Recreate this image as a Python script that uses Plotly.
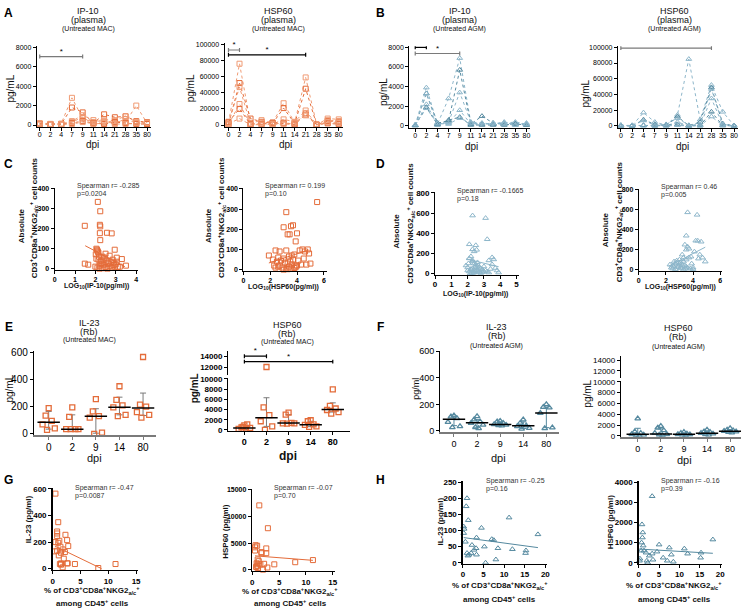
import plotly.graph_objects as go

FONT = "Arial, 'Liberation Sans', sans-serif"
W, H = 750, 614

# ---------------- data ----------------
days_plasma = ['0', '2', '4', '7', '9', '11', '14', '21', '28', '35', '80']
days_rb = ['0', '2', '9', '14', '80']

ip10_plasma_mac = [
    [100, 100, 150, 2800, 700, 300, 600, 400, 300, 2000, 200],
    [150, 100, 100, 1800, 1300, 200, 1100, 800, 900, 400, 300],
    [50, 80, 100, 400, 1000, 500, 300, 200, 600, 200, 100],
    [200, 120, 80, 300, 800, 100, 200, 500, 900, 300, 200],
    [100, 50, 50, 200, 400, 200, 100, 300, 200, 100, 100],
    [80, 90, 100, 100, 300, 150, 400, 100, 100, 200, 250],
]
hsp60_plasma_mac = [
    [3000, 76000, 2000, 6000, 3000, 27000, 3000, 59000, 500, 8000, 7000],
    [1000, 52000, 8000, 4000, 2000, 21000, 2000, 45000, 300, 5000, 4000],
    [2000, 47000, 1000, 3000, 1000, 7000, 4000, 18000, 200, 3000, 2000],
    [500, 26000, 500, 2000, 500, 3000, 1000, 15000, 100, 6000, 5000],
    [4000, 20000, 1000, 1000, 3000, 2000, 500, 13000, 400, 2000, 1000],
    [1500, 8000, 300, 500, 1500, 1000, 3000, 12000, 300, 4000, 3000],
]
ip10_plasma_agm = [
    [100, 3900, 200, 2800, 6900, 300, 200, 200, 300, 300, 200],
    [50, 3300, 300, 500, 5700, 200, 1000, 300, 200, 200, 100],
    [100, 3300, 100, 400, 3400, 400, 300, 200, 400, 100, 300],
    [80, 2200, 200, 300, 1600, 200, 200, 300, 300, 400, 200],
    [60, 1900, 150, 600, 900, 100, 100, 100, 100, 200, 100],
    [120, 1800, 250, 200, 800, 300, 250, 250, 200, 100, 150],
]
hsp60_plasma_agm = [
    [500, 500, 17000, 5000, 1000, 14000, 85000, 8000, 52000, 18000, 500],
    [1000, 200, 8000, 2000, 500, 12000, 500, 5000, 49000, 3000, 200],
    [300, 400, 7000, 1000, 2000, 10000, 1000, 2000, 47000, 2000, 300],
    [800, 1000, 500, 500, 300, 5000, 300, 1000, 35000, 1000, 100],
    [200, 300, 1000, 300, 1000, 2000, 200, 500, 18000, 500, 400],
    [600, 600, 300, 200, 500, 1000, 100, 300, 12000, 800, 200],
]
# significance brackets: (from index, to index, level)
sig_ip10_mac = [(0, 4, 7050)]
sig_hsp60_mac = [(0, 1, 93000), (0, 7, 87000)]
sig_ip10_agm = [(0, 1, 8000), (0, 4, 7370)]
sig_hsp60_agm = [(0, 8, 99000)]
sig_hsp60_rb_mac = [(0, 1, 14000), (0, 4, 13000)]

# C / D correlations
c1_x = [1.48, 1.48, 1.65, 2.12, 2.24, 2.22, 2.24, 2.22, 2.24, 2.57, 2.80, 2.05, 2.08, 2.10, 2.12, 2.15, 2.02, 2.18,
        2.95, 3.30, 3.05, 2.90, 2.70, 2.50, 2.40, 2.30, 2.0, 2.1, 2.2, 2.3, 2.4, 2.5, 2.6, 2.7, 2.8, 2.9, 3.0, 3.1,
        3.2, 3.5, 2.05, 2.15, 2.25, 2.35, 2.45, 2.55, 2.65, 2.75, 2.85, 2.95, 3.05, 2.2, 2.3, 2.4, 2.6, 2.8]
c1_y = [215, 25, 20, 335, 288, 220, 212, 178, 143, 180, 177, 100, 95, 90, 85, 80, 72, 60,
        95, 48, 55, 30, 65, 75, 45, 40, 10, 5, 15, 25, 20, 8, 30, 12, 5, 18, 22, 8,
        10, 15, 50, 45, 35, 60, 55, 40, 25, 35, 45, 10, 35, 0, 3, 2, 0, 5]
c1_fit_x = [1.5, 3.45]
c1_fit_y = [115, 10]

c2_x = [5.5, 3.2, 3.0, 3.55, 3.7, 3.45, 3.3, 4.0, 3.9, 1.9, 2.4, 2.7, 3.2, 2.6, 3.0, 3.4, 3.6, 3.8, 4.2, 4.4, 4.6,
        4.8, 4.9, 4.5, 2.2, 2.5, 2.8, 3.1, 3.3, 3.5, 3.7, 3.9, 4.1, 4.3, 2.3, 2.6, 2.9, 3.2, 3.4, 3.6, 3.8, 4.0,
        4.7, 5.0, 3.0, 3.5, 2.4, 2.7, 3.3, 3.9]
c2_y = [335, 285, 210, 215, 220, 175, 175, 180, 140, 70, 95, 90, 95, 60, 55, 65, 70, 75, 95, 100, 90,
        100, 80, 55, 50, 40, 45, 35, 30, 40, 50, 20, 45, 25, 20, 15, 10, 5, 15, 25, 8, 20,
        25, 30, 0, 5, 10, 20, 2, 12]
c2_fit_x = [1.9, 4.85]
c2_fit_y = [33, 97]

d1_x = [2.3, 3.1, 3.2, 2.1, 2.5, 2.3, 2.4, 2.55, 3.5, 3.3, 3.6, 3.8, 1.9, 2.0, 2.1, 2.2, 2.3, 2.4, 2.5, 2.6, 2.7,
        2.8, 2.9, 3.0, 3.1, 3.2, 3.4, 3.7, 3.9, 2.0, 2.1, 2.2, 2.3, 2.4, 2.5, 2.6, 2.7, 2.8, 3.0, 3.3, 2.15,
        2.25, 2.35, 2.45, 2.65, 2.05, 2.2, 2.4, 2.6, 2.9, 3.5, 2.3, 2.5]
d1_y = [575, 550, 340, 290, 280, 240, 220, 235, 160, 130, 140, 30, 80, 60, 150, 170, 120, 100, 90, 110, 60,
        50, 40, 70, 30, 20, 45, 55, 10, 30, 20, 40, 50, 10, 25, 35, 15, 5, 20, 10, 0,
        5, 8, 60, 80, 100, 45, 30, 20, 15, 90, 130, 70]
d1_fit_x = [1.9, 3.9]
d1_fit_y = [145, 68]

d2_x = [3.6, 4.3, 3.5, 4.2, 4.35, 4.6, 3.4, 3.6, 3.7, 4.1, 4.5, 4.7, 4.9, 3.2, 3.3, 3.5, 3.0, 2.8, 2.5, 2.3, 2.4,
        2.6, 2.7, 2.9, 3.1, 3.3, 3.5, 3.7, 3.9, 4.0, 2.5, 2.7, 2.9, 3.1, 3.3, 3.5, 3.8, 4.0, 2.8, 3.0, 3.2,
        3.4, 3.6, 2.6, 3.1, 3.45, 3.85, 4.4]
d2_y = [575, 550, 340, 290, 290, 280, 250, 230, 210, 180, 150, 120, 80, 150, 120, 200, 100, 90, 40, 50, 20,
        30, 60, 40, 70, 80, 100, 120, 60, 20, 10, 5, 25, 15, 0, 30, 10, 5, 70, 60, 50,
        40, 20, 80, 30, 10, 130, 110]
d2_fit_x = [2.2, 4.9]
d2_fit_y = [35, 225]

# E / F rhesus-derived values per dpi group, with centre line and bar ends
il23_rb_mac = [[190, 135, 95, 70, 40, 30], [195, 125, 35, 35, 35, 35], [255, 165, 130, 120, 10, 0],
               [350, 250, 210, 195, 140, 130], [565, 215, 200, 160, 140, 120]]
il23_rb_mac_mid = [85, 35, 130, 195, 190]
il23_rb_mac_lo = [35, 30, 5, 140, 135]
il23_rb_mac_hi = [165, 140, 185, 270, 300]

hsp60_rb_mac = [[900, 500, 1100, 200, 400, 600, 300], [12000, 4400, 2900, 1700, 700, 0],
                [3400, 3000, 1400, 1300, 1300, 1250], [1900, 1700, 1100, 1000, 700, 600],
                [7950, 4700, 4200, 3900, 3500, 3200]]
hsp60_rb_mac_mid = [400, 2400, 1350, 1000, 4000]
hsp60_rb_mac_lo = [100, 700, 1250, 650, 3500]
hsp60_rb_mac_hi = [800, 6300, 3000, 1700, 5300]

il23_rb_agm = [[115, 108, 95, 67, 35, 27], [110, 85, 70, 60, 45, 28, 20], [75, 70, 60, 50, 45, 42, 40],
               [85, 60, 40, 35, 22, 15], [200, 180, 175, 135, 25, 20]]
il23_rb_agm_mid = [88, 62, 48, 40, 135]
il23_rb_agm_lo = [40, 28, 42, 18, 25]
il23_rb_agm_hi = [112, 85, 68, 68, 180]

hsp60_rb_agm = [[3200, 800, 500, 300, 200, 100, 0], [1800, 1500, 1000, 500, 300, 200, 100],
                [700, 500, 400, 300, 250, 200, 100], [1100, 800, 700, 500, 400, 300, 200],
                [1400, 1100, 1000, 900, 800, 700, 600]]
hsp60_rb_agm_mid = [300, 350, 300, 500, 850]
hsp60_rb_agm_lo = [0, 100, 150, 300, 650]
hsp60_rb_agm_hi = [1400, 1300, 550, 900, 1100]

# G / H correlations
g1_x = [0.5, 1.0, 0.8, 0.8, 0.8, 2.3, 2.6, 0.5, 1.2, 1.0, 2.8, 1.4, 1.8, 0.4, 0.8, 2.2, 1.5, 1.1, 2.0, 1.5,
        1.3, 2.6, 2.7, 4.0, 11.3, 8.2, 1.8, 1.5]
g1_y = [565, 350, 280, 265, 245, 255, 215, 200, 210, 195, 170, 165, 145, 130, 135, 125, 120, 100, 75, 40,
        35, 40, 40, 35, 35, 5, 10, 30]
g1_fit_x = [0.4, 8.8]
g1_fit_y = [170, 0]

g2_x = [1.3, 2.9, 0.6, 0.9, 0.5, 0.5, 1.7, 1.7, 2.6, 2.6, 1.0, 1.2, 0.8, 1.0, 1.5, 2.2, 4.1, 8.0, 11.3, 0.7,
        1.0, 2.0, 2.8, 0.9]
g2_y = [12100, 7800, 4600, 4500, 4200, 3600, 3300, 3100, 4000, 3100, 1900, 1600, 1200, 1000, 1000, 1100, 1000,
        1400, 1800, 500, 300, 0, 400, 700]
g2_fit_x = [0.5, 11.3]
g2_fit_y = [2600, 1750]

h1_x = [1.0, 0.8, 1.3, 0.2, 0.3, 0.2, 11.2, 18.2, 4.5, 3.3, 7.0, 7.5, 0.6, 2.2, 3.2, 2.7, 5.2, 8.5, 12.0, 15.3,
        15.2, 1.0, 1.5, 1.2, 2.0, 3.3, 5.5, 8.0]
h1_y = [200, 175, 132, 112, 105, 92, 140, 88, 108, 78, 73, 70, 65, 55, 45, 40, 50, 45, 42, 38,
        30, 30, 25, 22, 30, 25, 0, 10]
h1_fit_x = [0.2, 18.2]
h1_fit_y = [78, 47]

h2_x = [3.3, 0.8, 1.0, 0.9, 0.7, 1.1, 5.0, 7.5, 11.2, 18.2, 0.3, 0.2, 1.3, 1.8, 2.6, 3.3, 4.5, 8.0, 12.0, 15.3,
        15.2, 2.0, 2.2, 3.5, 6.0, 7.0, 8.5, 0.6]
h2_y = [3300, 1900, 1500, 1250, 1000, 850, 900, 750, 700, 1150, 200, 100, 600, 500, 350, 450, 550, 400, 450, 500,
        250, 100, 0, 150, 250, 100, 50, 600]
h2_fit_x = [0.1, 18.2]
h2_fit_y = [680, 470]

# ---------------- styling ----------------
ORANGE = '#E46C3A'
ORANGE_L = '#F09B74'
BLUE = '#55899F'
BLUE_L = '#8DB6CA'
GREY = '#7a7a7a'

fig = go.Figure()
layout_axes = {}
AX = {}
anns = []


def key(prefix, i):
    return prefix if i == 1 else f'{prefix}{i}'


def cal(lo, hi, v1, p1, v2, p2):
    k = (v2 - v1) / (p2 - p1)
    return [v1 + (lo - p1) * k, v1 + (hi - p1) * k]


def astyle(size=8, bold=False, lc='black', lw=1, tickvals=None, ticktext=None, standoff=0):
    d = dict(showline=True, linecolor=lc, linewidth=lw, ticks='outside', ticklen=3, tickwidth=1,
             tickcolor=lc, showgrid=False, zeroline=False, fixedrange=True,
             tickfont=dict(family=FONT, size=size, color='black', weight='bold' if bold else 'normal'),
             exponentformat='none', separatethousands=False, ticklabelstandoff=standoff)
    if tickvals is not None:
        d['tickmode'] = 'array'
        d['tickvals'] = tickvals
        d['ticktext'] = ticktext if ticktext is not None else [str(v) for v in tickvals]
    return d


def make_axes(i, xpx, ypx, xcal, ycal, xopt, yopt, xshare=None):
    yr = cal(ypx[0], ypx[1], *ycal)
    xi = xshare or i
    if xshare is None:
        xr = cal(xpx[0], xpx[1], *xcal)
        layout_axes[key('xaxis', i)] = dict(domain=[xpx[0] / W, xpx[1] / W], range=xr,
                                            anchor=key('y', i), **xopt)
    layout_axes[key('yaxis', i)] = dict(domain=[1 - ypx[0] / H, 1 - ypx[1] / H], range=yr,
                                        anchor=key('x', xi), **yopt)
    AX[i] = dict(xa=key('x', xi), ya=key('y', i), ypp=(yr[1] - yr[0]) / (ypx[0] - ypx[1]))


def tr(i, **kw):
    fig.add_trace(go.Scatter(xaxis=AX[i]['xa'], yaxis=AX[i]['ya'], showlegend=False,
                             hoverinfo='skip', **kw))


def ann(x, y, text, size=8, bold=False, angle=0, xanchor='center', color='#111'):
    anns.append(dict(x=x / W, y=1 - y / H, xref='paper', yref='paper',
                     text=f'<b>{text}</b>' if bold else text, showarrow=False,
                     font=dict(family=FONT, size=size, color=color), textangle=angle,
                     xanchor=xanchor, yanchor='middle'))


def lines_panel(i, series, colors, symbol):
    for k, s in enumerate(series):
        c = colors[k % len(colors)]
        tr(i, x=list(range(len(s))), y=s, mode='lines+markers',
           line=dict(color=c, width=1, dash='dot'),
           marker=dict(symbol=symbol, size=5, color=c, line=dict(width=1, color=c)))


def brackets(i, specs, colors):
    p = AX[i]['ypp']
    for (x0, x1, yv), col in zip(specs, colors):
        cap = 2 * p
        tr(i, x=[x0, x0, x0, x1, x1, x1], y=[yv - cap, yv + cap, yv, yv, yv + cap, yv - cap],
           mode='lines', line=dict(color=col, width=1.2))
        tr(i, x=[(x0 + x1) / 2], y=[yv + 5 * p], mode='text', text=['*'],
           textfont=dict(size=8, color='black', family=FONT), cliponaxis=False)


JIT = [0, -0.13, 0.13, -0.26, 0.26, -0.07, 0.07, 0.2]


def swarm_panel(i, groups, mid, lo, hi, color, symbol, ecolor):
    xs, ys = [], []
    for g, vals in enumerate(groups):
        for k, v in enumerate(vals):
            xs.append(g + JIT[k])
            ys.append(v)
    gx = list(range(len(mid)))
    tr(i, x=gx, y=mid, mode='markers', marker=dict(size=1, color='rgba(0,0,0,0)'),
       error_y=dict(type='data', symmetric=False, array=[h - m for h, m in zip(hi, mid)],
                    arrayminus=[m - l for m, l in zip(mid, lo)], color=ecolor, thickness=1, width=3))
    tr(i, x=xs, y=ys, mode='markers',
       marker=dict(symbol=symbol, size=5, color=color, line=dict(width=1.3, color=color)))
    tr(i, x=gx, y=mid, mode='markers',
       marker=dict(symbol='line-ew', size=16, color='black', line=dict(width=1.5, color='black')))


def scatter_panel(i, xs, ys, fx, fy, color, symbol):
    tr(i, x=xs, y=ys, mode='markers', cliponaxis=False,
       marker=dict(symbol=symbol, size=5, color=color, line=dict(width=1, color=color)))
    tr(i, x=fx, y=fy, mode='lines', line=dict(color=color, width=1))


# ---------------- axes ----------------
pl_ticks = list(range(len(days_plasma)))
rb_ticks = list(range(len(days_rb)))

# Row A/B
make_axes(1, (35, 150), (124, 42), (0, 38, 10, 146), (0, 122, 8000, 43),
          astyle(7, tickvals=pl_ticks, ticktext=days_plasma, standoff=-2),
          astyle(7, tickvals=[0, 2000, 4000, 6000, 8000]))
make_axes(2, (224, 343), (124, 39), (0, 228, 10, 339), (0, 122, 100000, 40),
          astyle(7, tickvals=pl_ticks, ticktext=days_plasma, standoff=-2),
          astyle(7, tickvals=[0, 20000, 40000, 60000, 80000, 100000]))
make_axes(3, (410, 532), (125, 42), (0, 416, 10, 528), (0, 123, 8000, 43),
          astyle(7, tickvals=pl_ticks, ticktext=days_plasma, standoff=-2),
          astyle(7, tickvals=[0, 2000, 4000, 6000, 8000]))
make_axes(4, (620, 741), (125, 42), (0, 623, 10, 737), (0, 123, 100000, 43),
          astyle(7, tickvals=pl_ticks, ticktext=days_plasma, standoff=-2),
          astyle(7, tickvals=[0, 20000, 40000, 60000, 80000, 100000]))
# Row C/D
make_axes(5, (53, 137), (269, 186), (0, 53, 4, 135), (0, 268, 400, 187),
          astyle(7, True, tickvals=[0, 1, 2, 3, 4]), astyle(7, True, tickvals=[0, 100, 200, 300, 400]))
make_axes(6, (243, 327), (270, 186), (0, 243, 6, 324), (0, 269, 400, 187),
          astyle(7, True, tickvals=[0, 2, 4, 6]), astyle(7, True, tickvals=[0, 100, 200, 300, 400]))
make_axes(7, (436, 520), (274, 190), (0, 436, 5, 518), (0, 273, 800, 191),
          astyle(8, True, tickvals=[0, 1, 2, 3, 4, 5], standoff=-1),
          astyle(8, True, tickvals=[0, 200, 400, 600, 800]))
make_axes(8, (641, 725), (270, 187), (0, 641, 6, 723), (0, 269, 800, 188),
          astyle(7, True, tickvals=[0, 2, 4, 6]), astyle(7, True, tickvals=[0, 200, 400, 600, 800]))
# Row E/F
make_axes(9, (32, 155), (437, 352), (0, 47, 4, 142), (0, 436, 600, 353),
          astyle(10, lc=GREY, lw=2, tickvals=rb_ticks, ticktext=days_rb, standoff=-1),
          astyle(10, tickvals=[0, 200, 400, 600]))
make_axes(10, (228, 350), (433, 379), (0, 244, 4, 333), (0, 432, 10000, 380),
          astyle(9, True, lw=1.5, tickvals=rb_ticks, ticktext=days_rb, standoff=-1),
          astyle(8, True, lw=1.5, tickvals=[0, 2000, 4000, 6000, 8000, 10000]))
make_axes(11, None, (376, 352), None, (12000, 368, 14000, 357), None,
          astyle(8, True, lw=1.5, tickvals=[12000, 14000]), xshare=10)
make_axes(12, (441, 561), (434, 352), (0, 455, 4, 548), (0, 433, 600, 352),
          astyle(9, lc=GREY, lw=2, tickvals=rb_ticks, ticktext=days_rb, standoff=-1),
          astyle(9, tickvals=[0, 200, 400, 600]))
make_axes(13, (623, 744), (439, 382), (0, 640, 4, 733), (0, 438, 10000, 383),
          astyle(9, lc=GREY, lw=2, tickvals=rb_ticks, ticktext=days_rb, standoff=-1),
          astyle(8, tickvals=[0, 2000, 4000, 6000, 8000, 10000]))
make_axes(14, None, (379, 357), None, (12000, 372, 14000, 361), None,
          astyle(8, tickvals=[12000, 14000]), xshare=13)
# Row G/H
make_axes(15, (51, 137), (574, 491), (0, 51, 15, 135), (0, 573, 600, 492),
          astyle(8, True, lw=1.5, tickvals=[0, 5, 10, 15]), astyle(8, True, lw=1.5, tickvals=[0, 200, 400, 600]))
make_axes(16, (252, 335), (575, 492), (0, 252, 15, 333), (0, 574, 15000, 493),
          astyle(8, True, lw=1.5, tickvals=[0, 5, 10, 15]),
          astyle(7, True, lw=1.5, tickvals=[0, 5000, 10000, 15000]))
make_axes(17, (464, 549), (568, 484), (0, 464, 20, 547), (0, 567, 250, 485),
          astyle(8, True, lw=1.5, tickvals=[0, 5, 10, 15, 20], standoff=-1),
          astyle(8, True, lw=1.5, tickvals=[0, 50, 100, 150, 200, 250]))
make_axes(18, (641, 725), (568, 484), (0, 641, 20, 723), (0, 567, 4000, 485),
          astyle(8, True, lw=1.5, tickvals=[0, 5, 10, 15, 20], standoff=-1),
          astyle(8, True, lw=1.5, tickvals=[0, 1000, 2000, 3000, 4000]))

# ---------------- traces ----------------
lines_panel(1, ip10_plasma_mac, [ORANGE_L, ORANGE, ORANGE_L], 'square-open')
brackets(1, sig_ip10_mac, [GREY])
lines_panel(2, hsp60_plasma_mac, [ORANGE_L, ORANGE, ORANGE_L], 'square-open')
brackets(2, sig_hsp60_mac, [GREY, 'black'])
lines_panel(3, ip10_plasma_agm, [BLUE_L, BLUE, BLUE_L], 'triangle-up-open')
brackets(3, sig_ip10_agm, ['black', GREY])
lines_panel(4, hsp60_plasma_agm, [BLUE_L, BLUE, BLUE_L], 'triangle-up-open')
brackets(4, sig_hsp60_agm, [GREY])

scatter_panel(5, c1_x, c1_y, c1_fit_x, c1_fit_y, ORANGE, 'square-open')
scatter_panel(6, c2_x, c2_y, c2_fit_x, c2_fit_y, ORANGE, 'square-open')
scatter_panel(7, d1_x, d1_y, d1_fit_x, d1_fit_y, BLUE_L, 'triangle-up-open')
scatter_panel(8, d2_x, d2_y, d2_fit_x, d2_fit_y, BLUE_L, 'triangle-up-open')

swarm_panel(9, il23_rb_mac, il23_rb_mac_mid, il23_rb_mac_lo, il23_rb_mac_hi, ORANGE, 'square-open', GREY)
for ii in (10, 11):
    swarm_panel(ii, hsp60_rb_mac, hsp60_rb_mac_mid, hsp60_rb_mac_lo, hsp60_rb_mac_hi, ORANGE, 'square-open', GREY)
brackets(11, sig_hsp60_rb_mac, ['black', 'black'])
swarm_panel(12, il23_rb_agm, il23_rb_agm_mid, il23_rb_agm_lo, il23_rb_agm_hi, BLUE, 'triangle-up-open', BLUE)
for ii in (13, 14):
    swarm_panel(ii, hsp60_rb_agm, hsp60_rb_agm_mid, hsp60_rb_agm_lo, hsp60_rb_agm_hi, BLUE, 'triangle-up-open', BLUE)

scatter_panel(15, g1_x, g1_y, g1_fit_x, g1_fit_y, ORANGE, 'square-open')
scatter_panel(16, g2_x, g2_y, g2_fit_x, g2_fit_y, ORANGE, 'square-open')
scatter_panel(17, h1_x, h1_y, h1_fit_x, h1_fit_y, BLUE, 'triangle-up-open')
scatter_panel(18, h2_x, h2_y, h2_fit_x, h2_fit_y, BLUE, 'triangle-up-open')

# ---------------- text ----------------
for letter, x, y in [('A', 7, 8), ('B', 381, 8), ('C', 7, 162), ('D', 381, 162),
                     ('E', 7, 327), ('F', 381, 327), ('G', 7, 483), ('H', 381, 483)]:
    ann(x, y, letter, 12, bold=True, color='black')

# row 1 titles
for x, t1, t3 in [(87, 'IP-10', '(Untreated MAC)'), (278, 'HSP60', '(Untreated MAC)'),
                  (461, 'IP-10', '(Untreated AGM)'), (677, 'HSP60', '(Untreated AGM)')]:
    ann(x, 6, t1, 9)
    ann(x, 15, '(plasma)', 9)
    ann(x, 24, t3, 7)
for x, y in [(9, 85), (190, 85), (384, 88), (587, 90)]:
    ann(x, y, 'pg/mL', 10, angle=-90)
for x, y in [(91, 142), (285, 142), (473, 144), (685, 144)]:
    ann(x, y, 'dpi', 10)

# row 2
ytl2 = 'CD3<sup>+</sup>CD8a<sup>+</sup>NKG2<sub>a/c</sub><sup>+</sup> cell counts'
for xa, xb, yc in [(19, 32, 216), (208, 221, 216), (397, 411, 222), (607, 621, 220)]:
    ann(xa, yc + 8, 'Absolute', 8, bold=True, angle=-90)
    ann(xb, yc, ytl2, 8, bold=True, angle=-90)
ann(95, 286, 'LOG<sub>10</sub>(IP-10(pg/ml))', 7, bold=True)
ann(283, 287, 'LOG<sub>10</sub>(HSP60(pg/ml))', 7, bold=True)
ann(477, 294, 'LOG<sub>10</sub>(IP-10(pg/ml))', 7, bold=True)
ann(683, 287, 'LOG<sub>10</sub>(HSP60(pg/ml))', 7, bold=True)
for x, y, r, p in [(73, 184, '-0.285', '0.0204'), (263, 184, '0.199', '0.10'),
                   (456, 189, '-0.1665', '0.18'), (661, 185, '0.46', '0.005'),
                   (71, 491, '-0.47', '0.0087'), (272, 491, '-0.07', '0.70'),
                   (485, 484, '-0.25', '0.16'), (661, 484, '-0.16', '0.39')]:
    ann(x, y, f'Spearman r= {r}', 7, xanchor='left', color='#333')
    ann(x, y + 8, f'p={p}', 7, xanchor='left', color='#333')

# row 3
for x, yy, t1, t3 in [(88, 323, 'IL-23', '(Untreated MAC)'), (287, 325, 'HSP60', '(Untreated MAC)'),
                      (498, 327, 'IL-23', '(Untreated AGM)'), (681, 328, 'HSP60', '(Untreated AGM)')]:
    ann(x, yy, t1, 9)
    ann(x, yy + 9, '(Rb)', 9)
    ann(x, yy + 18 if 'MAC' in t3 else yy + 20, t3, 7)
ann(8, 390, 'pg/mL', 10, angle=-90)
ann(194, 390, 'pg/mL', 10, bold=True, angle=-90)
ann(416, 390, 'pg/ml', 9, angle=-90)
ann(589, 395, 'pg/mL', 10, angle=-90)
ann(93, 460, 'dpi', 11)
ann(288, 458, 'dpi', 12, bold=True)
ann(500, 460, 'dpi', 11)
ann(687, 463, 'dpi', 11)

# row 4
xl1 = '% of CD3<sup>+</sup>CD8a<sup>+</sup>NKG2<sub>a/c</sub><sup>+</sup>'
xl2 = 'among CD45<sup>+</sup> cells'
for x, y1, y2 in [(91, 595, 608), (290, 596, 608), (501, 590, 604), (677, 590, 604)]:
    ann(x, y1, xl1, 8, bold=True)
    ann(x, y2, xl2, 8, bold=True)
ann(27, 523, 'IL-23 (pg/ml)', 8, bold=True, angle=-90)
ann(225, 535, 'HSP60 (pg/ml)', 8, bold=True, angle=-90)
ann(441, 525, 'IL-23 (pg/ml)', 8, bold=True, angle=-90)
ann(613, 525, 'HSP60 (pg/ml)', 8, bold=True, angle=-90)

fig.update_layout(width=W, height=H, margin=dict(l=0, r=0, t=0, b=0),
                  paper_bgcolor='white', plot_bgcolor='white',
                  font=dict(family=FONT, size=8, color='black'),
                  showlegend=False, annotations=anns, **layout_axes)
fig.write_html('out.html', config={'displayModeBar': False, 'staticPlot': True},
               post_script="document.body.style.margin='0';document.body.style.overflow='hidden';")
